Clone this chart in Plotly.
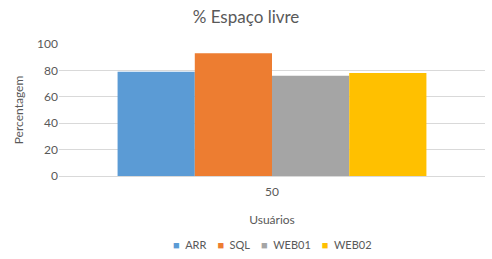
import plotly.graph_objects as go

categories = ["50"]
series_names = ["ARR", "SQL", "WEB01", "WEB02"]
arr_values = [79]
sql_values = [93]
web01_values = [76]
web02_values = [78]
colors = ["#5B9BD5", "#ED7D31", "#A5A5A5", "#FFC000"]
y_ticks = [0, 20, 40, 60, 80, 100]

fig = go.Figure()
for name, vals, col in zip(series_names, [arr_values, sql_values, web01_values, web02_values], colors):
    fig.add_trace(go.Bar(x=categories, y=vals, name=name, marker=dict(color=col, line=dict(width=0)),
                         showlegend=False))

font_family = "Lato, 'Open Sans', sans-serif"

# legend built as a single centered line of text
sep = "\u2002\u2002"
legend_text = sep.join(
    f'<span style="color:{c}">■</span>\u2002{n}' for n, c in zip(series_names, colors)
)
fig.add_annotation(text=legend_text, xref="paper", yref="paper", x=0.5, xanchor="center",
                   y=-0.52, yanchor="middle", showarrow=False,
                   font=dict(size=11, color="#595959", family=font_family))

fig.update_layout(
    width=492, height=259,
    margin=dict(l=59, r=7, t=44, b=83, autoexpand=False),
    paper_bgcolor="white", plot_bgcolor="white",
    barmode="group", bargap=0.275, bargroupgap=0,
    font=dict(family=font_family, color="#595959", size=12),
    title=dict(text="% Espaço livre", x=0.5, xanchor="center", y=0.935, yanchor="middle",
               font=dict(size=17, color="#595959", family=font_family)),
    showlegend=False,
    xaxis=dict(type="category", title=dict(text="Usuários", standoff=17, font=dict(size=12, color="#595959")),
               showgrid=False, showline=False, ticks="", ticklabelstandoff=7,
               tickfont=dict(size=12, color="#595959")),
    yaxis=dict(range=[0, 100], tickvals=y_ticks, showgrid=True, gridcolor="#D9D9D9", gridwidth=1,
               zeroline=True, zerolinecolor="#D9D9D9", zerolinewidth=1, showline=False, ticks="",
               title=dict(text="Percentagem", standoff=10, font=dict(size=12, color="#595959")),
               tickfont=dict(size=12, color="#595959")),
)
fig.write_html("out.html")
